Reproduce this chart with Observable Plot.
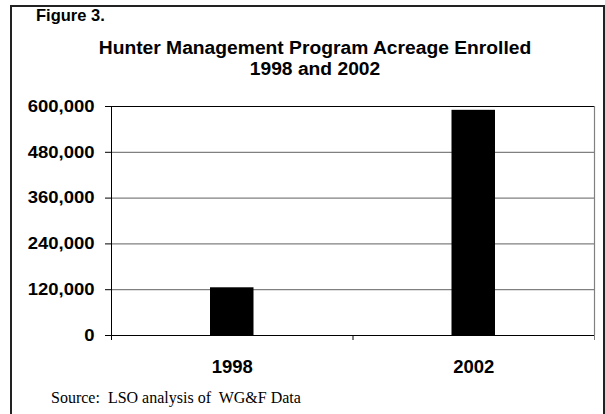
<!DOCTYPE html>
<html><head><meta charset="utf-8">
<script src="https://cdn.jsdelivr.net/npm/d3@7"></script>
<script src="https://cdn.jsdelivr.net/npm/@observablehq/plot@0.6"></script>
<style>
body{margin:0;background:#fff;}
#wrap{position:relative;width:605px;height:414px;overflow:hidden;font-family:"Liberation Sans",Arial,sans-serif;background:#fff;}
#frame{position:absolute;left:10px;top:5px;width:591px;height:420px;border:2px solid #222;border-bottom:none;z-index:2;pointer-events:none;}
.t{position:absolute;font-weight:bold;color:#000;white-space:nowrap;z-index:3;line-height:1;}
.c{transform:translateX(-50%) scaleX(1.1);}
#src{position:absolute;left:51px;top:390px;line-height:1;font-family:"Liberation Serif","Times New Roman",serif;font-size:16px;white-space:pre;color:#000;z-index:3;}
#chart{position:absolute;left:0;top:0;z-index:1;}
</style></head>
<body><div id="wrap"><div id="frame"></div>
<div class="t" style="left:36px;top:7px;font-size:16.5px">Figure 3.</div>
<div class="t c" style="left:315px;top:40px;font-size:17.5px">Hunter Management Program Acreage Enrolled</div>
<div class="t c" style="left:315px;top:61px;font-size:17.5px">1998 and 2002</div>
<div id="chart"></div>
<div id="src">Source:  LSO analysis of  WG&amp;F Data</div>
</div>
<script>
const years = ["1998", "2002"];
const acres = [125000, 590000];
const yTicks = [0, 120000, 240000, 360000, 480000, 600000];
const data = years.map((y, i) => ({i, year: y, acres: acres[i]}));

const chart = Plot.plot({
  width: 605, height: 414,
  marginLeft: 111, marginRight: 11, marginTop: 106, marginBottom: 79,
  style: {fontFamily: '"Liberation Sans", Arial, sans-serif', background: "transparent", color: "#000"},
  x: {domain: [0, 2], axis: null},
  y: {domain: [0, 600000], axis: null},
  marks: [
    Plot.ruleY(yTicks.slice(1, -1), {stroke: "#808080", strokeWidth: 1.2}),
    Plot.ruleY([600000], {stroke: "#000"}),
    Plot.ruleX([2], {stroke: "#808080", strokeWidth: 1.2}),
    Plot.rectY(data, {x1: d => d.i, x2: d => d.i + 1, y: "acres", fill: "#000", insetLeft: 99, insetRight: 99}),
    Plot.ruleY([0], {stroke: "#000"}),
    Plot.ruleX([0], {stroke: "#000"}),
    Plot.axisY({ticks: yTicks, label: null, tickFormat: d3.format(","), tickSize: 6, tickPadding: 11, fontSize: 16.5, fontWeight: "bold", stroke: "#000"}),
    Plot.axisX({ticks: [0, 1], label: null, tickFormat: () => "", tickSize: 5, stroke: "#000"}),
    Plot.axisX({ticks: [2], label: null, tickFormat: () => "", tickSize: 5, stroke: "#808080"}),
    Plot.axisX({ticks: [0.5, 1.5], label: null, tickSize: 0, tickPadding: 24, tickFormat: v => years[Math.floor(v)], fontSize: 18.5, fontWeight: "bold"})
  ]
});
d3.select(chart).selectAll('g[aria-label="y-axis tick label"] text').each(function() {
  const t = this.getAttribute("transform");
  if (t) this.setAttribute("transform", t + " scale(1.12,1)");
});
document.getElementById("chart").appendChild(chart);
</script>
</body></html>
